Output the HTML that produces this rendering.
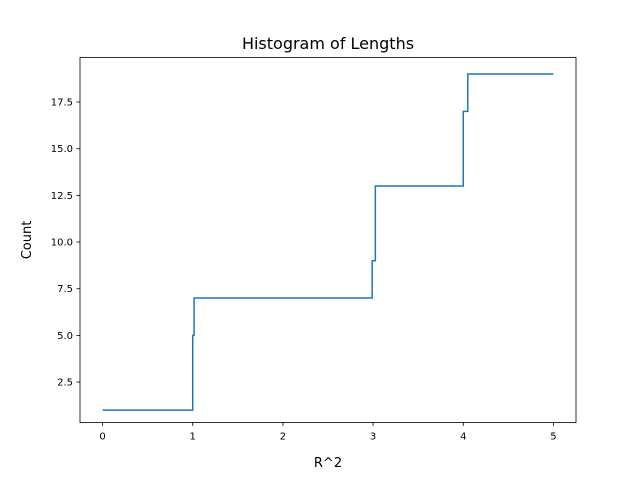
<!DOCTYPE html>
<html><head><meta charset="utf-8"><style>body{margin:0;background:#fff}svg{display:block;font-family:"DejaVu Sans","Liberation Sans",sans-serif}</style></head>
<body>
<svg id="chart" width="640" height="480">
<rect width="640" height="480" fill="#fff"/>
<text x="328" y="49" font-size="16" text-anchor="middle">Histogram of Lengths</text>
<text x="328" y="467" font-size="13" text-anchor="middle">R^2</text>
<text transform="translate(31,240) rotate(-90)" font-size="13" text-anchor="middle">Count</text>
<g id="ticks"></g>
<path id="line" fill="none" stroke="#1f77b4" stroke-width="1.5"/>
<rect x="80" y="57.6" width="496" height="364.8" fill="none" stroke="#000" stroke-width="0.8"/>
</svg>
<script>
const xVals = [0, 1.0, 1.015, 2.99, 3.025, 4.0, 4.05, 5];
const yVals = [1, 5, 7, 9, 13, 17, 19, 19];
const xTicks = [0, 1, 2, 3, 4, 5];
const yTicks = [2.5, 5.0, 7.5, 10.0, 12.5, 15.0, 17.5];
const yTickLabels = ["2.5", "5.0", "7.5", "10.0", "12.5", "15.0", "17.5"];

const L=80,R=576,T=57.6,B=422.4;
const xmin=-0.25,xmax=5.25,ymin=0.34,ymax=19.88;
const sx=v=>L+(v-xmin)/(xmax-xmin)*(R-L);
const sy=v=>B-(v-ymin)/(ymax-ymin)*(B-T);
const NS="http://www.w3.org/2000/svg";
const g=document.getElementById('ticks');
function mk(tag,attrs){const e=document.createElementNS(NS,tag);for(const k in attrs)e.setAttribute(k,attrs[k]);g.appendChild(e);return e;}
xTicks.forEach(v=>{
  const l=mk('line',{x1:sx(v),x2:sx(v),y1:B,y2:B+3.5,stroke:'#000','stroke-width':0.8});
  
  
  const t=mk('text',{x:sx(v),y:B+17,'font-size':10,'text-anchor':'middle'});
  t.textContent=String(v);
  
  
});
yTicks.forEach((v,i)=>{
  const l=mk('line',{x1:L-3.5,x2:L,y1:sy(v),y2:sy(v),stroke:'#000','stroke-width':0.8});
  
  
  const t=mk('text',{x:L-7,y:sy(v)+3.5,'font-size':10,'text-anchor':'end'});
  t.textContent=yTickLabels[i];
  
  
});
let d='M'+sx(xVals[0])+','+sy(yVals[0]);
for(let i=1;i<xVals.length;i++){d+=' L'+sx(xVals[i])+','+sy(yVals[i-1])+' L'+sx(xVals[i])+','+sy(yVals[i]);}
document.getElementById('line').setAttribute('d',d);
</script>
</body></html>
